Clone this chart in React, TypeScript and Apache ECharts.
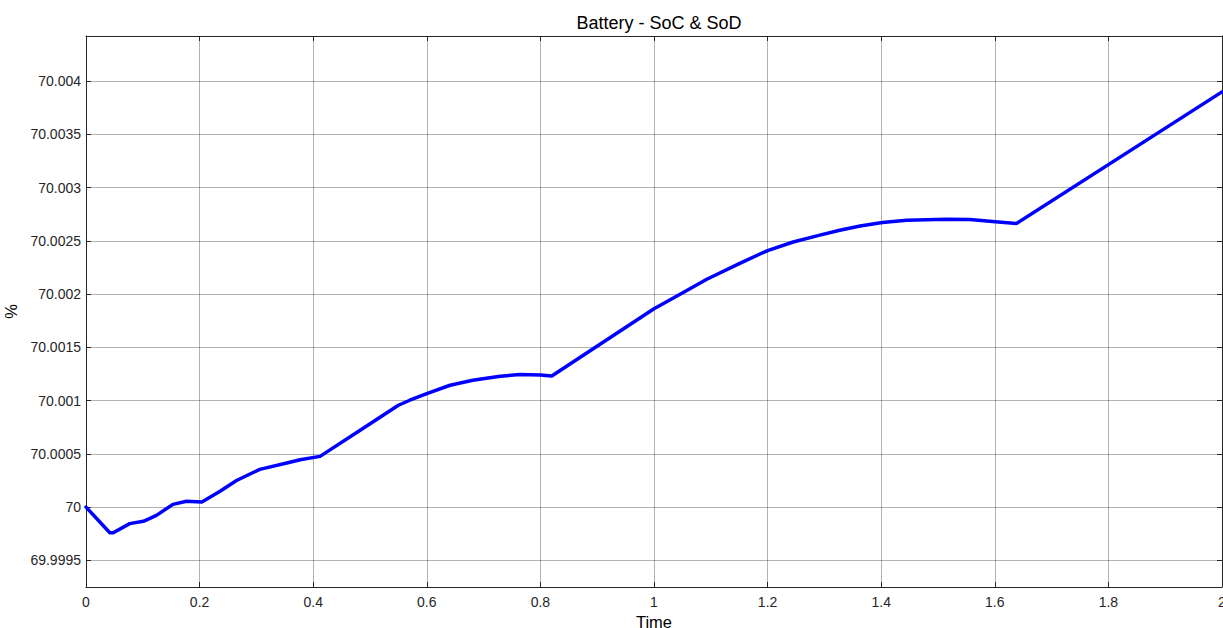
import React, { useEffect, useRef } from "react";
import * as echarts from "echarts";

const TITLE = "Battery - SoC & SoD";
const X_NAME = "Time";
const Y_NAME = "%";

const time = [
  0, 0.042, 0.048, 0.077, 0.101, 0.124, 0.153, 0.177, 0.204, 0.236, 0.265,
  0.306, 0.359, 0.377, 0.412, 0.482, 0.55, 0.57, 0.6, 0.641, 0.681, 0.729,
  0.764, 0.8, 0.82, 1.0, 1.046, 1.093, 1.151, 1.2, 1.245, 1.292, 1.327, 1.363,
  1.402, 1.445, 1.515, 1.556, 1.601, 1.638, 2.0,
];

const soc = [
  70.0, 69.99976, 69.99976, 69.999845, 69.999867, 69.999923, 70.000026,
  70.000055, 70.000048, 70.000149, 70.00025, 70.000355, 70.000421, 70.000445,
  70.000477, 70.00072, 70.000957, 70.001004, 70.001067, 70.001145, 70.001192,
  70.001229, 70.001245, 70.001242, 70.001232, 70.001864, 70.001999, 70.00214,
  70.00229, 70.00241, 70.00249, 70.002555, 70.0026, 70.00264, 70.002674,
  70.002695, 70.002705, 70.002702, 70.00268, 70.002664, 70.0039,
];

const BASE = 70;
const SCALE = 1e4; // plot in units of 1e-4 %
const Y_MIN = -7.5;
const Y_MAX = 44.25;

export default function App() {
  const ref = useRef<HTMLDivElement>(null);
  useEffect(() => {
    if (!ref.current) return;
    const chart = echarts.init(ref.current, undefined, { renderer: "svg" });
    const data = time.map((t, i) => [t, Math.round((soc[i] - BASE) * SCALE * 1000) / 1000]);
    const textColor = "#262626";
    const gridColor = "rgba(0,0,0,0.3)";
    const font = "Liberation Sans, Arial, Helvetica, sans-serif";
    chart.setOption({
      animation: false,
      backgroundColor: "#ffffff",
      title: {
        text: TITLE,
        left: 654,
        top: 9,
        textAlign: "center",
        textStyle: { fontSize: 18, fontWeight: "normal", color: "#000", fontFamily: font },
      },
      grid: { left: 86, right: 1, top: 36, bottom: 41, containLabel: false, outerBoundsMode: "none" },
      xAxis: [
        {
          type: "value",
          min: 0,
          max: 2,
          interval: 0.2,
          name: X_NAME,
          nameLocation: "middle",
          nameGap: 26,
          nameTextStyle: { fontSize: 16.5, color: "#000", fontFamily: font },
          axisLine: { show: true, onZero: false, lineStyle: { color: textColor, width: 1 } },
          axisTick: { show: true, inside: true, length: 5, lineStyle: { color: textColor } },
          axisLabel: { color: textColor, fontSize: 14, margin: 8, fontFamily: font },
          splitLine: { show: true, lineStyle: { color: gridColor, width: 1 } },
        },
        {
          type: "value",
          position: "top",
          min: 0,
          max: 2,
          interval: 0.2,
          axisLine: { show: true, onZero: false, lineStyle: { color: textColor, width: 1 } },
          axisTick: { show: true, inside: true, length: 5, lineStyle: { color: textColor } },
          axisLabel: { show: false },
          splitLine: { show: false },
        },
      ],
      yAxis: [
        {
          type: "value",
          min: Y_MIN,
          max: Y_MAX,
          splitNumber: 10,
          minInterval: 5,
          maxInterval: 5,
          name: Y_NAME,
          nameLocation: "middle",
          nameGap: 60,
          nameRotate: 90,
          nameTextStyle: { fontSize: 16.5, color: "#000", fontFamily: font },
          axisLine: { show: true, onZero: false, lineStyle: { color: textColor, width: 1 } },
          axisTick: { show: true, inside: true, length: 5, lineStyle: { color: textColor } },
          axisLabel: {
            color: textColor,
            fontSize: 14,
            margin: 5,
            fontFamily: font,
            showMinLabel: false,
            showMaxLabel: false,
            formatter: (v: number) => String(Number((BASE + v / SCALE).toFixed(5))),
          },
          splitLine: { show: true, lineStyle: { color: gridColor, width: 1 } },
        },
        {
          type: "value",
          position: "right",
          min: Y_MIN,
          max: Y_MAX,
          splitNumber: 10,
          minInterval: 5,
          maxInterval: 5,
          axisLine: { show: true, onZero: false, lineStyle: { color: textColor, width: 1 } },
          axisTick: { show: true, inside: true, length: 5, lineStyle: { color: textColor } },
          axisLabel: { show: false },
          splitLine: { show: false },
        },
      ],
      series: [
        {
          type: "line",
          data,
          xAxisIndex: 0,
          yAxisIndex: 0,
          showSymbol: false,
          symbol: "none",
          smooth: false,
          lineStyle: { color: "#0000ff", width: 3.5, join: "round", cap: "round" },
        },
      ],
    });
    return () => chart.dispose();
  }, []);
  return (
    <div
      ref={ref}
      style={{ position: "absolute", left: 0, top: 0, width: 1223, height: 628, background: "#fff" }}
    />
  );
}
